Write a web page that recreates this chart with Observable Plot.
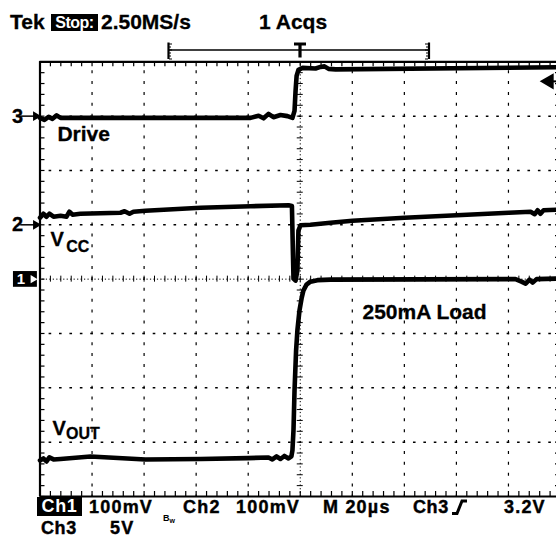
<!DOCTYPE html>
<html>
<head>
<meta charset="utf-8">
<script src="https://cdn.jsdelivr.net/npm/d3@7"></script>
<script src="https://cdn.jsdelivr.net/npm/@observablehq/plot@0.6"></script>
<style>
html, body { margin: 0; padding: 0; background: #fff; overflow: hidden; }
#wrap { position: relative; width: 556px; height: 539px; overflow: hidden; background: #fff;
  font-family: "Liberation Sans", Arial, Helvetica, sans-serif; font-weight: bold; color: #000; }
#chart { position: absolute; left: 0; top: 0; }
.t { position: absolute; font-size: 21px; line-height: 21px; white-space: nowrap; -webkit-text-stroke: 0.3px #000; }
.f { position: absolute; font-size: 18px; line-height: 18px; white-space: nowrap; letter-spacing: 1.2px; -webkit-text-stroke: 0.4px #000; }
.inv { position: absolute; background: #000; color: #fff; white-space: nowrap; text-align: center; }
svg.deco { position: absolute; left: 0; top: 0; overflow: visible; }
</style>
</head>
<body>
<div id="wrap">
  <div id="chart"></div>
  <!-- header -->
  <div class="t" style="left:10px;top:11px">Tek</div>
  <div class="inv" style="left:51px;top:14px;width:47px;height:17px;font-size:16px;line-height:17px;letter-spacing:-0.5px;">Stop:</div>
  <div class="t" style="left:101px;top:11px">2.50MS/s</div>
  <div class="t" style="left:259px;top:11px">1 Acqs</div>
  <svg class="deco" width="556" height="70">
    <line x1="168" y1="50" x2="429" y2="50" stroke="#000" stroke-width="1.6"/>
    <line x1="168.5" y1="42.5" x2="168.5" y2="59" stroke="#000" stroke-width="2.2"/>
    <path d="M169 44h3M169 47h2M169 50h3M169 53h2M169 56h2M169 59h3" stroke="#000" stroke-width="1"/>
    <line x1="429" y1="42.5" x2="429" y2="59" stroke="#000" stroke-width="2.2"/>
    <path d="M425 44h3M426 47h2M425 50h3M426 53h2M426 56h2M425 59h3" stroke="#000" stroke-width="1"/>
    <line x1="294" y1="44" x2="306" y2="44" stroke="#000" stroke-width="3"/>
    <line x1="300" y1="43" x2="300" y2="57.5" stroke="#000" stroke-width="3.2"/>
  </svg>
  <!-- footer -->
  <div class="inv" style="left:37px;top:497px;width:45px;height:19px;font-size:18px;line-height:19px;letter-spacing:0.6px;">Ch1</div>
  <div class="f" style="left:89px;top:498.3px">100mV</div>
  <div class="f" style="left:163px;top:514px;font-size:9px;line-height:9px;letter-spacing:0;-webkit-text-stroke:0">B<span style="font-size:7px;position:relative;top:2px">w</span></div>
  <div class="f" style="left:183px;top:498.3px">Ch2</div>
  <div class="f" style="left:236px;top:498.3px">100mV</div>
  <div class="f" style="left:323px;top:498.3px">M 20µs</div>
  <div class="f" style="left:413px;top:498.3px;letter-spacing:0.6px">Ch3</div>
  <svg class="deco" width="556" height="539">
    <path d="M452 513.5 L457 513.5 L462 501 L467 501" fill="none" stroke="#000" stroke-width="3"/>
  </svg>
  <div class="f" style="left:504px;top:498.3px">3.2V</div>
  <div class="f" style="left:41px;top:518.8px;letter-spacing:0.6px">Ch3</div>
  <div class="f" style="left:110px;top:518.8px">5V</div>
</div>
<script>
// ---- Scope settings ----
const timePerDiv = 20;          // µs/div (M 20µs), trigger at screen centre
const ch1Scale = 100, ch1Pos = 0;   // Ch1 VOUT: 100 mV/div, marker at 0 div
const ch2Scale = 100, ch2Pos = 1;   // Ch2 VCC: 100 mV/div, marker at +1 div
const ch3Scale = 5,   ch3Pos = 3;   // Ch3 Drive: 5 V/div, marker at +3 div
const triggerLevel = 3.2;           // V on Ch3

// ---- Ch3: Drive (V) ----
const driveT = [-100, -98.3, -96.7, -95.2, -93.6, -92.1, -21.0, -19.1, -16.0, -14.1, -12.2, -10.3, -7.6, -4.9, -3.0, -2.2, -1.8, -1.4, -0.7, 0.9, 5.9, 7.8, 9.3, 10.9, 13.6, 100];
const driveV = [-0.16, -0.34, -0.07, -0.25, 0.07, -0.16, -0.16, -0.16, 0.03, -0.2, 0.21, -0.1, 0.1, 0.0, -0.16, 0.49, 2.32, 3.7, 4.26, 4.44, 4.39, 4.53, 4.58, 4.35, 4.3, 4.5];

// ---- Ch2: VCC (mV, relative to marker) ----
const vccT = [-100, -98.7, -97.5, -96.4, -94.8, -92.1, -89.8, -88.7, -87.5, -84.5, -69.1, -67.5, -65.6, -64.1, -59.5, -38.3, -19.1, -4.5, -3.2, -2.6, -1.8, -1.1, -0.7, 0.1, 3.9, 11.6, 20.1, 40.1, 60.1, 80.1, 88.5, 90.1, 91.2, 92.3, 93.5, 98.5, 100];
const vccMv = [13.1, 20.4, 14.9, 20.4, 14.9, 16.7, 14.9, 24.1, 18.6, 20.4, 22.2, 25.0, 20.4, 24.1, 25.9, 31.4, 34.2, 36.0, 34.5, -99.1, -102.8, -84.4, -10.8, -0.7, 0.2, 3.9, 7.5, 13.1, 17.6, 22.2, 24.1, 19.5, 26.8, 20.4, 26.8, 27.8, 27.8];

// ---- Ch1: VOUT (mV, relative to marker) ----
const voutT = [-100, -98.7, -97.5, -96.4, -94.8, -92.1, -80.6, -59.5, -38.3, -20.3, -12.2, -10.7, -9.1, -7.6, -6.1, -4.5, -3.4, -3.0, -2.6, -2.2, -1.6, -1.1, -0.3, 0.5, 1.2, 2.4, 3.9, 6.6, 11.6, 82.7, 85.0, 86.6, 88.1, 89.3, 90.8, 98.5, 100];
const voutMv = [-333.6, -330.0, -335.5, -328.1, -331.8, -330.9, -326.3, -331.8, -330.9, -329.4, -328.1, -331.8, -326.3, -330.9, -325.4, -330.0, -326.3, -315.3, -278.5, -205.0, -131.5, -94.7, -57.9, -35.8, -21.1, -10.1, -4.6, -1.8, -0.9, 0, -4.6, -8.3, -0.9, -6.4, 0, 0.9, 0.9];

// ---- Graticule divisions ----
const majorX = [-80, -60, -40, -20, 20, 40, 60, 80];
const majorY = [-3, -2, -1, 1, 2, 3];
const minorX = d3.range(-100, 100.001, 4);
const minorY = d3.range(-4, 4.001, 0.2).map(v => +v.toFixed(2));

// Tables built from the arrays (y in screen divisions)
const drive = driveT.map((t, i) => ({t, y: ch3Pos + driveV[i] / ch3Scale}));
const vcc = vccT.map((t, i) => ({t, y: ch2Pos + vccMv[i] / ch2Scale}));
const vout = voutT.map((t, i) => ({t, y: ch1Pos + voutMv[i] / ch1Scale}));

const font = '"Liberation Sans", Arial, Helvetica, sans-serif';
const tx = 1.92;   // ≈5 px in µs
const ty = 0.092;  // ≈5 px in div
const trace = {x: "t", y: "y", stroke: "#000", strokeWidth: 4.6, strokeLinejoin: "round", strokeLinecap: "round"};
const lbl = {fill: "#000", stroke: "#000", strokeWidth: 0.3, textAnchor: "start"};

const chart = Plot.plot({
  width: 556,
  height: 539,
  marginLeft: 39.5, marginRight: 0, marginTop: 61.3, marginBottom: 43,
  x: {domain: [-100, 100], range: [39.5, 560], axis: null},
  y: {domain: [-4, 4], range: [496, 61.3], axis: null},
  style: {fontFamily: font, fontWeight: "bold", background: "#fff", overflow: "hidden"},
  marks: [
    // dotted major grid
    Plot.ruleX(majorX, {x: d => d, y1: -4, y2: 4, stroke: "#000", strokeWidth: 1.2, strokeDasharray: "3 7.88", strokeDashoffset: 1.5}),
    Plot.ruleY(majorY, {y: d => d, x1: -100, x2: 100, stroke: "#000", strokeWidth: 1.5, strokeDasharray: "2.6 7.81", strokeDashoffset: 1.3}),
    // centre axes (finely dotted + minor ticks)
    Plot.ruleX([0], {x: d => d, y1: -4, y2: 4, stroke: "#000", strokeWidth: 1, strokeDasharray: "1.2 2.43", strokeDashoffset: 0.6}),
    Plot.ruleY([0], {y: d => d, x1: -100, x2: 100, stroke: "#000", strokeWidth: 1, strokeDasharray: "1.2 2.27", strokeDashoffset: 0.6}),
    Plot.ruleY(minorY, {y: d => d, x1: -0.6 * tx, x2: 0.6 * tx, stroke: "#000", strokeWidth: 1}),
    Plot.ruleX(minorX, {x: d => d, y1: -0.6 * ty, y2: 0.6 * ty, stroke: "#000", strokeWidth: 1}),
    // border ticks
    Plot.ruleX(minorX, {x: d => d, y1: 4, y2: 4 - ty, stroke: "#000", strokeWidth: 1.2}),
    Plot.ruleX(minorX, {x: d => d, y1: -4, y2: -4 + ty, stroke: "#000", strokeWidth: 1.2}),
    Plot.ruleY(minorY, {y: d => d, x1: -100, x2: -100 + tx, stroke: "#000", strokeWidth: 1.2}),
    Plot.ruleY(minorY, {y: d => d, x1: 100, x2: 100 - tx, stroke: "#000", strokeWidth: 1.2}),
    // border
    Plot.ruleX([-100, 100], {x: d => d, y1: -4, y2: 4, stroke: "#000", strokeWidth: 2.2}),
    Plot.ruleY([-4, 4], {y: d => d, x1: -100, x2: 100, stroke: "#000", strokeWidth: 2.2}),

    // traces
    Plot.line(drive, trace),
    Plot.line(vcc, trace),
    Plot.line(vout, trace),

    // channel ground markers (left)
    Plot.text([ch3Pos], {y: d => d, frameAnchor: "left", dx: -28, text: () => "3", fontSize: 20, fill: "#000", stroke: "#000", strokeWidth: 0.3}),
    Plot.text([ch2Pos], {y: d => d, frameAnchor: "left", dx: -28, text: () => "2", fontSize: 20, fill: "#000", stroke: "#000", strokeWidth: 0.3}),
    Plot.ruleY([ch3Pos, ch2Pos], {y: d => d, x1: -107.4, x2: -102, stroke: "#000", strokeWidth: 1.5}),
    Plot.dot([ch3Pos, ch2Pos], {y: d => d, x: -101.6, symbol: "triangle", rotate: 90, r: 3.6, fill: "#000", stroke: "none"}),
    Plot.rect([ch1Pos], {x1: -110.2, x2: -101.0, y1: d => d - 0.15, y2: d => d + 0.14, fill: "#000"}),
    Plot.text([ch1Pos], {y: d => d, x: -107.3, text: () => "1", fontSize: 15, fill: "#fff"}),
    Plot.dot([ch1Pos], {y: d => d, x: -102.7, symbol: "triangle", rotate: 90, r: 3, fill: "#fff", stroke: "none"}),

    // trigger level marker (right)
    Plot.dot([ch3Pos + triggerLevel / ch3Scale], {y: d => d, x: 95.6, symbol: "triangle", rotate: -90, r: 6, fill: "#000", stroke: "none"}),
    Plot.ruleY([ch3Pos + triggerLevel / ch3Scale], {y: d => d, x1: 96.5, x2: 100, stroke: "#000", strokeWidth: 2}),

    // trace labels
    Plot.text(["Drive"], {...lbl, x: -93.3, y: 2.675, text: d => d, fontSize: 21}),
    Plot.text(["V"], {...lbl, x: -96.0, y: 0.73, text: d => d, fontSize: 20}),
    Plot.text(["CC"], {...lbl, x: -89.9, y: 0.585, text: d => d, fontSize: 16}),
    Plot.text(["V"], {...lbl, x: -95.2, y: -2.757, text: d => d, fontSize: 20}),
    Plot.text(["OUT"], {...lbl, x: -90.0, y: -2.85, text: d => d, fontSize: 16}),
    Plot.text(["250mA Load"], {...lbl, x: 23.9, y: -0.607, text: d => d, fontSize: 21})
  ]
});
document.getElementById("chart").appendChild(chart);
</script>
</body>
</html>
